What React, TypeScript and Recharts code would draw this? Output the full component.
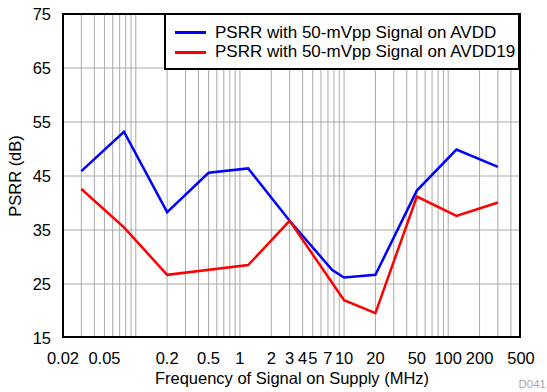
import React from 'react';
import {
  LineChart,
  Line,
  XAxis,
  YAxis,
  CartesianGrid,
  Legend,
  Label,
} from 'recharts';

// frequency (MHz) sample points
const freqs = [0.03, 0.077, 0.2, 0.5, 1.2, 3, 7.7, 10, 20, 50, 120, 300];
// PSRR (dB), null where the curve has no point
const avdd = [45.9, 53.2, 38.3, 45.6, 46.4, 36.7, 27.6, 26.2, 26.7, 42.3, 49.9, 46.7];
const avdd19 = [42.6, 35.5, 26.7, null, 28.5, 36.7, null, 22.0, 19.6, 41.2, 37.6, 40.1];

const xTicks = [0.02, 0.05, 0.2, 0.5, 1, 2, 3, 4, 5, 7, 10, 20, 50, 100, 200, 500];
const yTicks = [15, 25, 35, 45, 55, 65, 75];
// minor grid: 2..9 x every decade from 0.02 to 500
const xGrid = [
  0.03, 0.04, 0.05, 0.06, 0.07, 0.08, 0.09, 0.1,
  0.2, 0.3, 0.4, 0.5, 0.6, 0.7, 0.8, 0.9, 1,
  2, 3, 4, 5, 6, 7, 8, 9, 10,
  20, 30, 40, 50, 60, 70, 80, 90, 100,
  200, 300, 400,
];
const yGrid = [25, 35, 45, 55, 65];

const data = freqs.map((f, i) => ({ f, avdd: avdd[i], avdd19: avdd19[i] }));

const FONT = 'Liberation Sans, Arial, sans-serif';

const renderLegend = (props: any) => {
  const items = props.payload || [];
  return (
    <div
      style={{
        width: 352,
        height: 53,
        border: '2px solid #000',
        background: '#fff',
        boxSizing: 'content-box',
        fontFamily: FONT,
        fontSize: 17,
        color: '#000',
      }}
    >
      {items.map((it: any, i: number) => (
        <div key={it.value} style={{ display: 'flex', alignItems: 'center', height: 19.5, marginTop: i === 0 ? 8 : 0 }}>
          <span style={{ display: 'inline-block', width: 31, height: 3, background: it.color, marginLeft: 9, marginRight: 9 }} />
          <span>{it.value}</span>
        </div>
      ))}
    </div>
  );
};

const renderYLabel = (props: any) => {
  const { viewBox } = props;
  const x = 15;
  const y = viewBox.y + viewBox.height / 2;
  return (
    <text x={x} y={y} transform={`rotate(-90, ${x}, ${y})`} textAnchor="middle" dominantBaseline="central" fontSize={16.5} fontFamily={FONT} fill="#000">
      PSRR (dB)
    </text>
  );
};

const renderXLabel = (props: any) => {
  const { viewBox } = props;
  return (
    <text x={viewBox.x + viewBox.width / 2 - 0} y={378} textAnchor="middle" dominantBaseline="central" fontSize={16.5} fontFamily={FONT} fill="#000">
      Frequency of Signal on Supply (MHz)
    </text>
  );
};

export default function App() {
  return (
    <div style={{ position: 'absolute', left: 0, top: 0, width: 547, height: 392, background: '#fff' }}>
      <LineChart width={547} height={392} data={data} margin={{ top: 14, right: 26, bottom: 24, left: 0 }}>
        <CartesianGrid
          stroke="#aaaaaa"
          strokeWidth={1}
          verticalValues={xGrid}
          horizontalValues={yGrid}
        />
        <XAxis
          dataKey="f"
          type="number"
          scale="log"
          domain={[0.02, 500]}
          ticks={xTicks}
          interval={0}
          allowDataOverflow
          tickLine={false}
          axisLine={false}
          height={30}
          tick={{ fill: '#000', fontSize: 16.5, fontFamily: FONT }}
          tickMargin={8}
        >
          <Label content={renderXLabel} />
        </XAxis>
        <YAxis
          type="number"
          domain={[15, 75]}
          ticks={yTicks}
          interval={0}
          tickLine={false}
          axisLine={false}
          width={63}
          tick={{ fill: '#000', fontSize: 16.5, fontFamily: FONT }}
          tickMargin={6}
        >
          <Label content={renderYLabel} />
        </YAxis>
        <Legend
          layout="vertical"
          align="center"
          verticalAlign="middle"
          content={renderLegend}
          wrapperStyle={{ left: 164, top: 13, width: 358 }}
        />
        <Line
          name="PSRR with 50-mVpp Signal on AVDD"
          dataKey="avdd"
          stroke="#0000ff"
          strokeWidth={2.5}
          dot={false}
          isAnimationActive={false}
        />
        <Line
          name="PSRR with 50-mVpp Signal on AVDD19"
          dataKey="avdd19"
          stroke="#ff0000"
          strokeWidth={2.5}
          dot={false}
          connectNulls
          isAnimationActive={false}
        />
      </LineChart>
      {/* plot frame */}
      <div style={{ position: 'absolute', left: 62, top: 13, width: 459, height: 325, border: '2.5px solid #000', boxSizing: 'border-box', pointerEvents: 'none' }} />
      <div style={{ position: 'absolute', right: 1, top: 377, fontFamily: FONT, fontSize: 11.5, color: '#aaaaaa', lineHeight: '14px' }}>D041</div>
    </div>
  );
}
